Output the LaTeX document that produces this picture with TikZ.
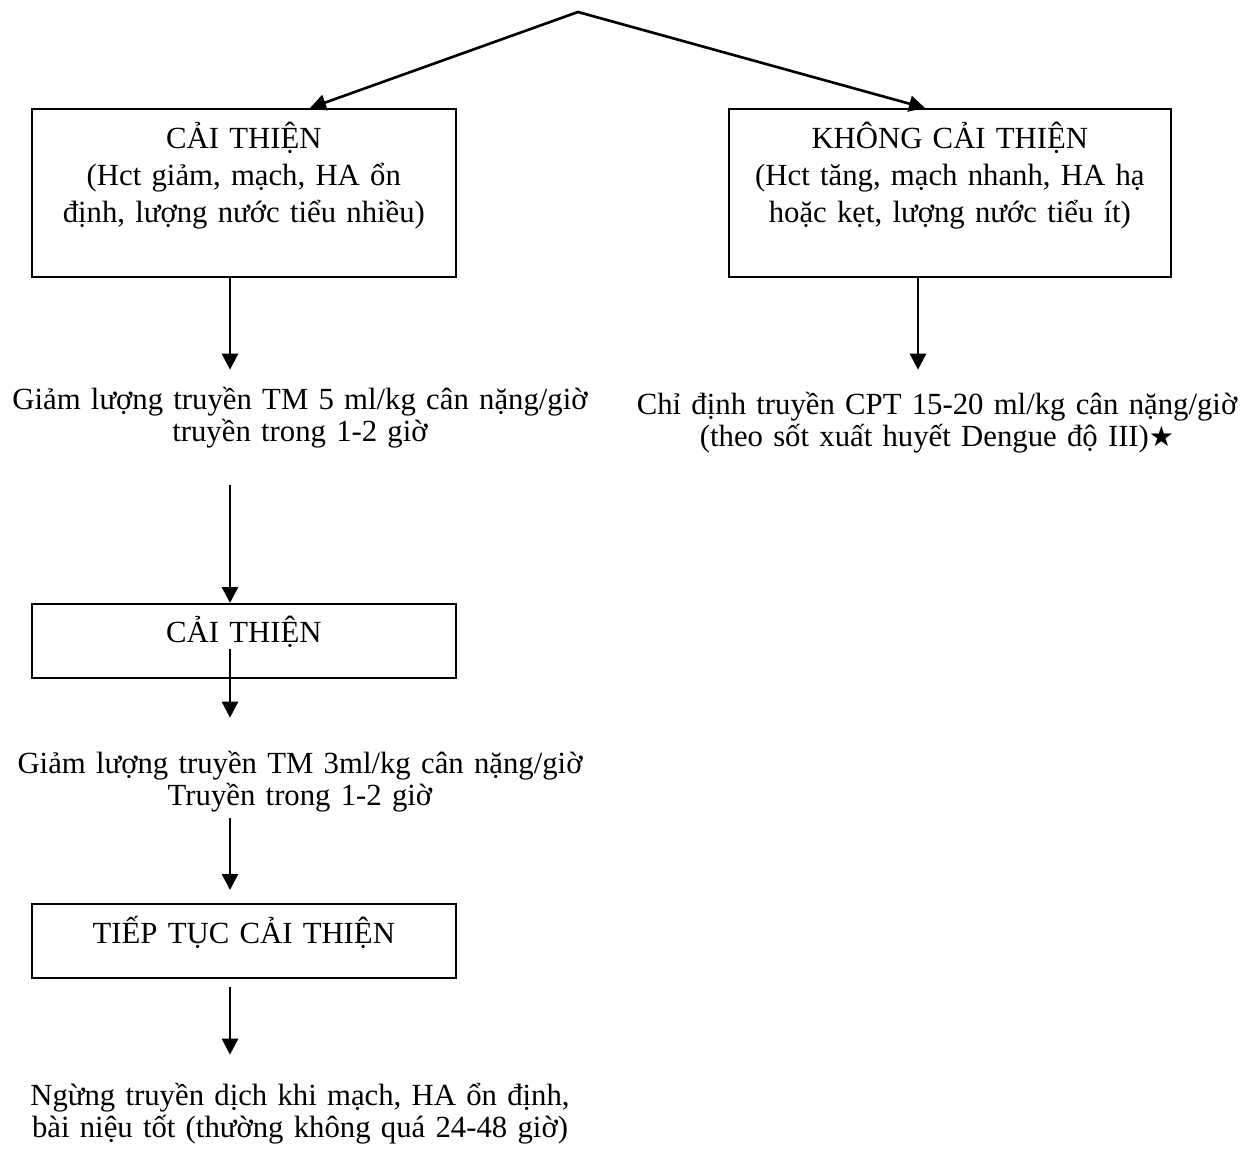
\documentclass[tikz,border=0pt]{standalone}
\usepackage{fontspec}
\setmainfont{Liberation Serif}
\newfontfamily\symfont{DejaVu Sans}
\usetikzlibrary{arrows.meta,calc}

\begin{document}
\begin{tikzpicture}[x=0.02cm,y=-0.02cm,
    >={Triangle[length=0.32cm,width=0.32cm]},
    box/.style={draw,line width=1pt,inner sep=0pt,text width=8.48cm,align=center,
      anchor=north west,font=\fontsize{17.5}{21}\selectfont},
    txt/.style={inner sep=0pt,text width=12.5cm,align=center,anchor=base,
      font=\fontsize{17.5}{18.7}\selectfont},
    arr/.style={line width=1.5pt,->}]
  \useasboundingbox (0,0) rectangle (1253,1153);
  \coordinate (top) at (578,12);
  \coordinate (colL) at (230,0);
  \coordinate (colR) at (918,0);
  % the two branches
  \node[box,text height=0.8cm,text depth=2.56cm] (good) at (31,108)
    {CẢI THIỆN\\(Hct giảm, mạch, HA ổn\\định, lượng nước tiểu nhiều)};
  \node[box,text width=8.84cm,text height=0.8cm,text depth=2.56cm] (bad) at (728,108)
    {KHÔNG CẢI THIỆN\\(Hct tăng, mạch nhanh, HA hạ\\hoặc kẹt, lượng nước tiểu ít)};
  \draw[arr,<->] ($(good.north west)+(279,0)$) -- (top) -- ($(bad.north west)+(197,0)$);
  % right branch
  \node[txt,text height=0.88cm,text depth=0.9cm] (cpt) at (937,414)
    {Chỉ định truyền CPT 15-20 ml/kg cân nặng/giờ\\(theo sốt xuất huyết Dengue độ III){\symfont\fontsize{16}{16}\selectfont ★}};
  \draw[arr] (bad.south -| colR) -- (cpt.north -| colR);
  % left branch
  \node[txt,text height=0.78cm,text depth=1.52cm] (cut5) at (300,409)
    {Giảm lượng truyền TM 5 ml/kg cân nặng/giờ\\truyền trong 1-2 giờ};
  \node[box,text height=0.78cm,text depth=0.7cm] (better) at (31,603) {CẢI THIỆN};
  \node[txt,text height=1.1cm,text depth=0.9cm] (cut3) at (300,773)
    {Giảm lượng truyền TM 3ml/kg cân nặng/giờ\\Truyền trong 1-2 giờ};
  \node[box,text height=0.8cm,text depth=0.68cm] (still) at (31,903) {TIẾP TỤC CẢI THIỆN};
  \node[txt,text height=1cm,text depth=0.8cm] (stop) at (300,1105)
    {Ngừng truyền dịch khi mạch, HA ổn định,\\bài niệu tốt (thường không quá 24-48 giờ)};
  \draw[arr] (good.south -| colL) -- (cut5.north -| colL);
  \draw[arr] (cut5.south -| colL) -- (better.north -| colL);
  \draw[arr] ($(better.south -| colL)+(0,-30)$) -- (cut3.north -| colL);
  \draw[arr] (cut3.south -| colL) -- ($(still.north -| colL)+(0,-13)$);
  \draw[arr] ($(still.south -| colL)+(0,8)$) -- (stop.north -| colL);
\end{tikzpicture}
\end{document}
